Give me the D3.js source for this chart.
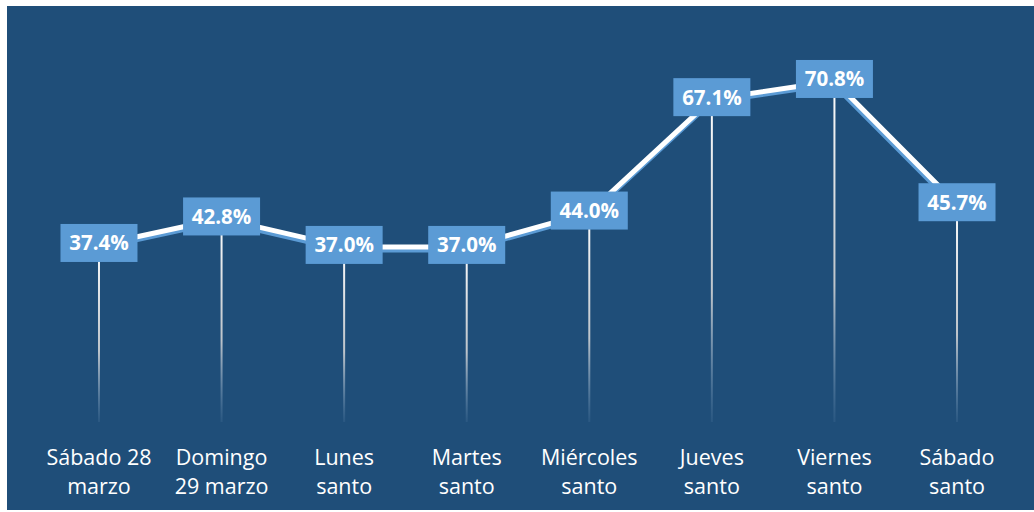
<!DOCTYPE html>
<html><head><meta charset="utf-8">
<script src="https://cdn.jsdelivr.net/npm/d3@7"></script>
<style>html,body{margin:0;padding:0;background:#fff;}svg{display:block;}</style>
</head><body>
<svg id="c" width="1034" height="512"></svg>
<script>
const categories = ["Sábado 28|marzo","Domingo|29 marzo","Lunes|santo","Martes|santo","Miércoles|santo","Jueves|santo","Viernes|santo","Sábado|santo"];
const values = [37.4, 42.8, 37.0, 37.0, 44.0, 67.1, 70.8, 45.7];
const labels = ["37.4%","42.8%","37.0%","37.0%","44.0%","67.1%","70.8%","45.7%"];

const svg = d3.select("#c");
svg.append("rect").attr("x",7).attr("y",6).attr("width",1027).attr("height",504).attr("fill","#1F4E79");

const x = d3.scaleBand().domain(categories).range([37.7, 1018.3]);
const y = d3.scaleLinear().domain([0, 80]).range([428.6, 35.8]);
const cx = d => x(d) + x.bandwidth()/2;

const defs = svg.append("defs");
const g = defs.append("linearGradient").attr("id","drop").attr("x1",0).attr("y1",0).attr("x2",0).attr("y2",1);
g.append("stop").attr("offset","0%").attr("stop-color","#ffffff").attr("stop-opacity",1);
g.append("stop").attr("offset","60%").attr("stop-color","#d9d9d9").attr("stop-opacity",0.85);
g.append("stop").attr("offset","100%").attr("stop-color","#8fb0d0").attr("stop-opacity",0.1);

const data = categories.map((c,i)=>({c, v:values[i], l:labels[i]}));
const yEnd = 422;

svg.selectAll("rect.drop").data(data).enter().append("rect")
  .attr("class","drop")
  .attr("x", d=>cx(d.c)-1).attr("y", d=>y(d.v))
  .attr("width",2).attr("height", d=>yEnd - y(d.v))
  .attr("fill","url(#drop)");

const line = d3.line().x(d=>cx(d.c)).y(d=>y(d.v));
svg.append("path").datum(data).attr("d",line).attr("fill","none")
  .attr("stroke","#5B9BD5").attr("stroke-width",5).attr("stroke-linejoin","round")
  .attr("transform","translate(-1,3)");
svg.append("path").datum(data).attr("d",line).attr("fill","none")
  .attr("stroke","#ffffff").attr("stroke-width",5).attr("stroke-linejoin","round");

const bw = 77, bh = 38;
const lb = svg.selectAll("g.lb").data(data).enter().append("g").attr("class","lb")
  .attr("transform", d=>`translate(${cx(d.c)},${y(d.v)-2})`);
lb.append("rect").attr("x",-bw/2).attr("y",-bh/2).attr("width",bw).attr("height",bh).attr("fill","#5B9BD5");
lb.append("text").attr("text-anchor","middle").attr("dy","0.36em")
  .attr("fill","#fff").attr("font-family","'Open Sans', sans-serif").attr("font-weight","bold")
  .attr("font-size",20.5).text(d=>d.l);

const cl = svg.selectAll("text.cat").data(data).enter().append("text").attr("class","cat")
  .attr("x", d=>cx(d.c)).attr("text-anchor","middle").attr("fill","#fff")
  .attr("font-family","'Open Sans', sans-serif").attr("font-size",21.5);
cl.append("tspan").attr("x",d=>cx(d.c)).attr("y",465).text(d=>d.c.split("|")[0]);
cl.append("tspan").attr("x",d=>cx(d.c)).attr("y",494).text(d=>d.c.split("|")[1]);
</script>
</body></html>
